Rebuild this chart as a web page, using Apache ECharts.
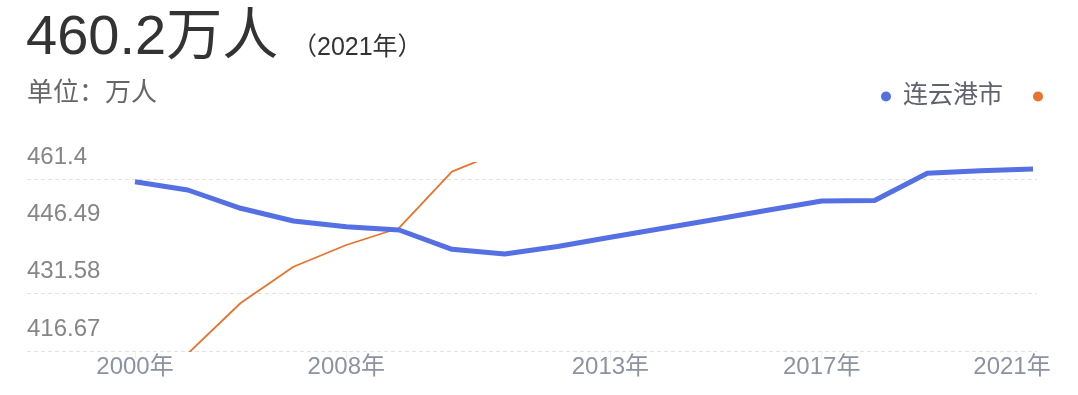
<!DOCTYPE html>
<html>
<head>
<meta charset="utf-8">
<script src="https://cdn.jsdelivr.net/npm/echarts@6/dist/echarts.min.js"></script>
<style>
  html, body { margin: 0; padding: 0; background: #fff; }
  #chart { width: 1078px; height: 395px; }
</style>
</head>
<body>
<div id="chart"></div>
<script>
const years = ["2000年", "2005年", "2006年", "2007年", "2008年", "2009年", "2010年", "2011年", "2012年",
  "2013年", "2014年", "2015年", "2016年", "2017年", "2018年", "2019年", "2020年", "2021年"];
const lygValues = [460.70, 458.54, 453.78, 450.48, 449.00, 448.14, 443.12, 441.90, 443.85,
  446.24, 448.61, 450.95, 453.34, 455.68, 455.81, 462.88, 463.56, 464.00];
const otherValues = [null, 415.99, 429.15, 438.59, 444.24, 448.66, 463.30, 468.94, null,
  null, null, null, null, null, null, null, null, null];
const shownYears = ["2000年", "2008年", "2013年", "2017年", "2021年"];
const yMin = 416.67;
const yStep = 14.91;
const yMax = 465.56;
const dashedValues = [461.4, 431.58, 416.67];
const seriesNames = ["连云港市", "对比城市"];
const headline = "460.2万人";
const headlineYear = "（2021年）";
const unitText = "单位：万人";

const FONT = "'Liberation Sans', 'Noto Sans CJK SC', sans-serif";
const chart = echarts.init(document.getElementById("chart"));
const lastYear = years[years.length - 1];
const showYear = (i, v) => shownYears.includes(years[i] || v);

chart.setOption({
  animation: false,
  title: [
    { text: headline, left: 26, top: 11, padding: 0,
      textStyle: { fontSize: 56, fontWeight: "normal", color: "#333", fontFamily: FONT } },
    { text: headlineYear, left: 292, top: 36, padding: 0,
      textStyle: { fontSize: 25, fontWeight: "normal", color: "#333", fontFamily: FONT } },
    { text: unitText, left: 27, top: 81, padding: 0,
      textStyle: { fontSize: 26, fontWeight: "normal", color: "#666", fontFamily: FONT } },
  ],
  legend: {
    left: 881,
    top: 84,
    padding: 0,
    icon: "circle",
    itemWidth: 24,
    itemHeight: 10,
    itemGap: 23,
    data: seriesNames,
    formatter: (name) => (name === seriesNames[0] ? name : ""),
    textStyle: { fontSize: 25, color: "#60636e", fontFamily: FONT },
  },
  grid: [
    { left: 27, right: 41, top: 163, bottom: 44 },
    { left: 135, right: 45, top: 163, bottom: 44 },
  ],
  xAxis: [
    { gridIndex: 0, type: "value", min: 0, max: 1, show: false },
    {
      gridIndex: 1,
      type: "category",
      boundaryGap: false,
      data: years,
      axisLine: { show: false },
      axisTick: { show: true, length: 7, interval: showYear, lineStyle: { color: "#f0f0f0" } },
      axisLabel: {
        interval: showYear,
        margin: 4,
        fontSize: 24,
        color: "#8d92a1",
        fontFamily: FONT,
        formatter: (v) => (v === lastYear ? `{end|${v}}` : v),
        rich: {
          end: { fontSize: 24, color: "#8d92a1", fontFamily: FONT, padding: [0, 42, 0, 0] },
        },
      },
      splitLine: { show: false },
    },
  ],
  yAxis: [
    {
      gridIndex: 0,
      type: "value",
      min: yMin,
      max: yMax,
      interval: yStep,
      axisLine: { show: false },
      axisTick: { show: false },
      splitLine: { show: false },
      axisLabel: {
        showMaxLabel: false,
        align: "left",
        verticalAlign: "bottom",
        lineHeight: 44,
        margin: 0,
        fontSize: 24,
        color: "#868686",
        fontFamily: FONT,
      },
    },
    { gridIndex: 1, type: "value", min: yMin, max: yMax, show: false },
  ],
  series: [
    {
      type: "line",
      xAxisIndex: 0,
      yAxisIndex: 0,
      data: [],
      silent: true,
      z: 1,
      markLine: {
        silent: true,
        z: 1,
        symbol: "none",
        label: { show: false },
        lineStyle: { color: "#e2e2e2", width: 1, type: [4, 3] },
        data: dashedValues.map((v) => ({ yAxis: v })),
      },
    },
    {
      name: seriesNames[1],
      type: "line",
      xAxisIndex: 1,
      yAxisIndex: 1,
      data: otherValues,
      symbol: "none",
      color: "#e7732e",
      lineStyle: { width: 1.8 },
      z: 2,
    },
    {
      name: seriesNames[0],
      type: "line",
      xAxisIndex: 1,
      yAxisIndex: 1,
      data: lygValues,
      symbol: "none",
      color: "#5470e3",
      lineStyle: { width: 5 },
      z: 3,
    },
  ],
});
</script>
</body>
</html>
